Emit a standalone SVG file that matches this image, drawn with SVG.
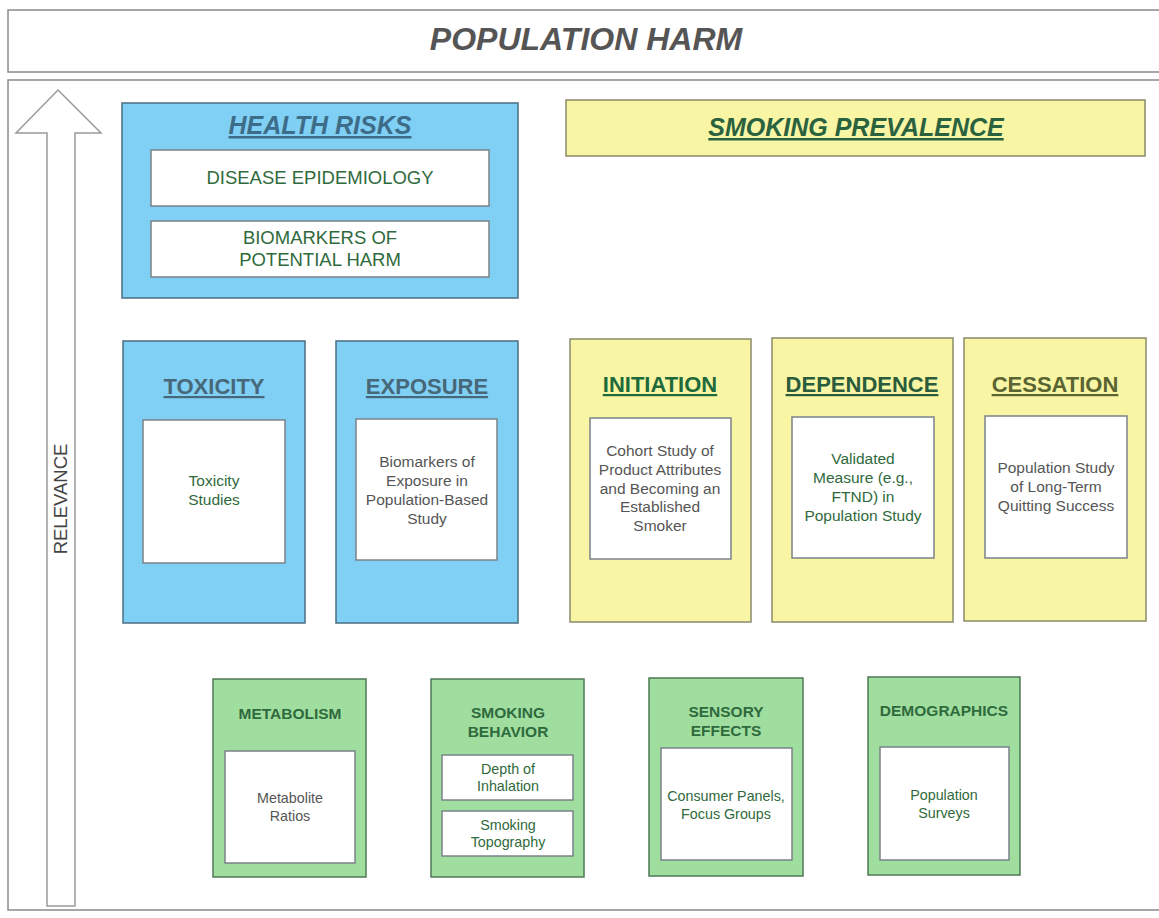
<svg xmlns="http://www.w3.org/2000/svg" width="1159" height="918" viewBox="0 0 1159 918">
  <style>
    text { font-family: "Liberation Sans", Arial, sans-serif; text-anchor: middle; }
    .frame { fill: #ffffff; stroke: #8a8a8a; stroke-width: 1.5; }
    .blue { fill: #80cff5; stroke: #4a6e80; stroke-width: 1.5; }
    .yellow { fill: #f8f6a4; stroke: #8a8a6a; stroke-width: 1.5; }
    .green { fill: #a0dea0; stroke: #4f7a55; stroke-width: 1.5; }
    .inner { fill: #ffffff; stroke: #7a8288; stroke-width: 1.5; }
    .head { font-weight: bold; text-decoration: underline; font-size: 22px; }
    .big { font-size: 25px; font-style: italic; }
    .sub { font-weight: bold; font-size: 15.5px; fill: #2f6a3c; }
    .body { font-size: 15.5px; }
    .small { font-size: 14.3px; }
    .grn { fill: #2f6a3c; }
    .gry { fill: #555555; }
  </style>

  <!-- page header -->
  <g id="title">
    <rect class="frame" x="8" y="10" width="1160" height="62"/>
    <text x="586" y="50" style="font-size:32px;font-weight:bold;font-style:italic;fill:#555555">POPULATION HARM</text>
  </g>

  <!-- outer frame and relevance axis -->
  <g id="relevance">
    <rect class="frame" x="8" y="80" width="1160" height="830"/>
    <polygon points="47,906 47,133 16,133 58,90 101,133 75,133 75,906" fill="#ffffff" stroke="#9a9a9a" stroke-width="1.5"/>
    <text transform="translate(67,499) rotate(-90)" style="font-size:18.5px;fill:#444444">RELEVANCE</text>
  </g>

  <g id="health-risks">
    <rect class="blue" x="122" y="103" width="396" height="195"/>
    <text class="head big" x="320" y="134" style="fill:#3d6c88">HEALTH RISKS</text>
    <rect class="inner" x="151" y="150" width="338" height="56"/>
    <text x="320" y="184" class="grn" style="font-size:18.5px">DISEASE EPIDEMIOLOGY</text>
    <rect class="inner" x="151" y="221" width="338" height="56"/>
    <text x="320" y="244" class="grn" style="font-size:18.5px">BIOMARKERS OF</text>
    <text x="320" y="266" class="grn" style="font-size:18.5px">POTENTIAL HARM</text>
  </g>

  <g id="smoking-prevalence">
    <rect class="yellow" x="566" y="100" width="579" height="56"/>
    <text class="head big" x="856" y="136" style="fill:#2a6240">SMOKING PREVALENCE</text>
  </g>

  <g id="toxicity">
    <rect class="blue" x="123" y="341" width="182" height="282"/>
    <text class="head" x="214" y="394" style="fill:#476878">TOXICITY</text>
    <rect class="inner" x="143" y="420" width="142" height="143"/>
    <text class="body grn" x="214" y="486">Toxicity</text>
    <text class="body grn" x="214" y="505">Studies</text>
  </g>

  <g id="exposure">
    <rect class="blue" x="336" y="341" width="182" height="282"/>
    <text class="head" x="427" y="394" style="fill:#476878">EXPOSURE</text>
    <rect class="inner" x="356" y="419" width="141" height="141"/>
    <text class="body gry" x="427" y="467">Biomarkers of</text>
    <text class="body gry" x="427" y="486">Exposure in</text>
    <text class="body gry" x="427" y="505">Population-Based</text>
    <text class="body gry" x="427" y="524">Study</text>
  </g>

  <g id="initiation">
    <rect class="yellow" x="570" y="339" width="181" height="283"/>
    <text class="head" x="660" y="392" style="fill:#1f6a3c">INITIATION</text>
    <rect class="inner" x="590" y="418" width="141" height="141"/>
    <text class="body gry" x="660" y="456">Cohort Study of</text>
    <text class="body gry" x="660" y="475">Product Attributes</text>
    <text class="body gry" x="660" y="494">and Becoming an</text>
    <text class="body gry" x="660" y="512">Established</text>
    <text class="body gry" x="660" y="531">Smoker</text>
  </g>

  <g id="dependence">
    <rect class="yellow" x="772" y="338" width="181" height="284"/>
    <text class="head" x="862" y="392" style="fill:#2a5c3c">DEPENDENCE</text>
    <rect class="inner" x="792" y="417" width="142" height="141"/>
    <text class="body grn" x="863" y="464">Validated</text>
    <text class="body grn" x="863" y="483">Measure (e.g.,</text>
    <text class="body grn" x="863" y="502">FTND) in</text>
    <text class="body grn" x="863" y="521">Population Study</text>
  </g>

  <g id="cessation">
    <rect class="yellow" x="964" y="338" width="182" height="283"/>
    <text class="head" x="1055" y="392" style="fill:#5a6432">CESSATION</text>
    <rect class="inner" x="985" y="416" width="142" height="142"/>
    <text class="body gry" x="1056" y="473">Population Study</text>
    <text class="body gry" x="1056" y="492">of Long-Term</text>
    <text class="body gry" x="1056" y="511">Quitting Success</text>
  </g>

  <g id="metabolism">
    <rect class="green" x="213" y="679" width="153" height="198"/>
    <text class="sub" x="290" y="719">METABOLISM</text>
    <rect class="inner" x="225" y="751" width="130" height="112"/>
    <text class="small gry" x="290" y="803">Metabolite</text>
    <text class="small gry" x="290" y="821">Ratios</text>
  </g>

  <g id="smoking-behavior">
    <rect class="green" x="431" y="679" width="153" height="198"/>
    <text class="sub" x="508" y="718">SMOKING</text>
    <text class="sub" x="508" y="737">BEHAVIOR</text>
    <rect class="inner" x="442" y="755" width="131" height="45"/>
    <text class="small grn" x="508" y="774">Depth of</text>
    <text class="small grn" x="508" y="791">Inhalation</text>
    <rect class="inner" x="442" y="811" width="131" height="45"/>
    <text class="small grn" x="508" y="830">Smoking</text>
    <text class="small grn" x="508" y="847">Topography</text>
  </g>

  <g id="sensory-effects">
    <rect class="green" x="649" y="678" width="154" height="198"/>
    <text class="sub" x="726" y="717">SENSORY</text>
    <text class="sub" x="726" y="736">EFFECTS</text>
    <rect class="inner" x="661" y="748" width="131" height="112"/>
    <text class="small grn" x="726" y="801">Consumer Panels,</text>
    <text class="small grn" x="726" y="819">Focus Groups</text>
  </g>

  <g id="demographics">
    <rect class="green" x="868" y="677" width="152" height="198"/>
    <text class="sub" x="944" y="716">DEMOGRAPHICS</text>
    <rect class="inner" x="880" y="747" width="129" height="113"/>
    <text class="small grn" x="944" y="800">Population</text>
    <text class="small grn" x="944" y="818">Surveys</text>
  </g>

  <!-- no connectors between the boxes -->
  <g id="connectors"/>
</svg>
